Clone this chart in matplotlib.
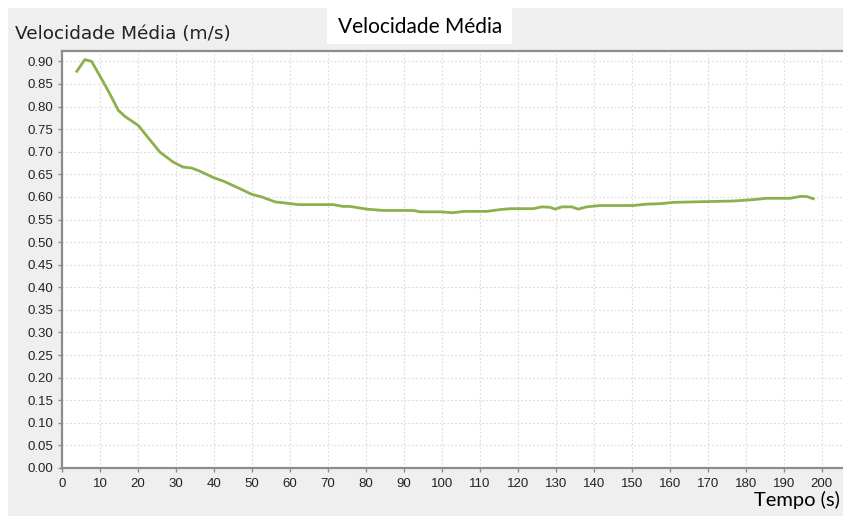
import numpy as np
import matplotlib.pyplot as plt
from matplotlib.patches import Rectangle

# tempo (s) e velocidade média (m/s)
tempo = [3.9, 6.0, 7.8, 10.9, 12.6, 14.8, 16.6, 20.1, 22.7, 25.8, 29.3, 31.9,
         34.1, 36.3, 39.8, 42.5, 46.9, 49.9, 52.6, 56.1, 58.3, 62.2, 71.4, 74.0,
         75.8, 80.2, 84.6, 92.5, 94.3, 99.5, 103.0, 105.7, 111.8, 115.3, 118.0,
         124.1, 126.3, 128.5, 129.8, 131.6, 134.2, 135.9, 138.1, 141.7, 150.4,
         153.9, 157.5, 161.0, 171.5, 176.8, 182.0, 185.5, 191.7, 194.3, 196.0,
         197.8]
velocidade = [0.878, 0.904, 0.900, 0.854, 0.828, 0.792, 0.778, 0.758, 0.731,
              0.699, 0.677, 0.666, 0.664, 0.657, 0.643, 0.635, 0.618, 0.606,
              0.600, 0.589, 0.587, 0.583, 0.583, 0.579, 0.579, 0.573, 0.570,
              0.570, 0.567, 0.567, 0.565, 0.568, 0.568, 0.572, 0.574, 0.574,
              0.578, 0.577, 0.573, 0.578, 0.578, 0.573, 0.578, 0.581, 0.581,
              0.584, 0.585, 0.588, 0.590, 0.591, 0.594, 0.597, 0.597, 0.601,
              0.601, 0.596]

xticks = np.arange(0, 201, 10)
yticks = np.arange(0, 0.901, 0.05)

W, H = 843, 516
fig = plt.figure(figsize=(W / 100, H / 100), dpi=100)
fig.patch.set_facecolor('white')

# painel cinza de fundo e caixa branca do título
bg = Rectangle((8 / W, 0), 1, 1 - 8 / H, transform=fig.transFigure,
               facecolor='#efefef', edgecolor='none', zorder=-2)
box = Rectangle((327 / W, 1 - 44 / H), 185 / W, 36 / H, transform=fig.transFigure,
                facecolor='white', edgecolor='none', zorder=-1)
fig.add_artist(bg)
fig.add_artist(box)

ax = fig.add_axes([62 / W, 1 - 468 / H, (W - 62) / W, (468 - 51) / H])
ax.set_zorder(2)
ax.set_facecolor('white')
ax.plot(tempo, velocidade, color='#8cb04e', lw=2.0, solid_joinstyle='round')

ax.set_xlim(0, 205.6)
ax.set_ylim(0, 0.923)
ax.set_xticks(xticks)
ax.set_yticks(yticks)
ax.set_xticklabels([str(v) for v in xticks])
ax.set_yticklabels([f'{v:.2f}' for v in yticks])
ax.grid(True, color='#dadada', lw=0.8, linestyle=(0, (1.5, 2)))
ax.set_axisbelow(True)

for side in ('left', 'bottom', 'top'):
    ax.spines[side].set_color('#8c8c8c')
    ax.spines[side].set_linewidth(1.6)
ax.spines['right'].set_visible(False)
ax.tick_params(axis='both', direction='out', length=3, width=1, color='#8c8c8c',
               labelsize=9.5, labelcolor='#222222')
ax.tick_params(axis='x', pad=4)
ax.tick_params(axis='y', pad=3)
for lbl in ax.get_xticklabels() + ax.get_yticklabels():
    lbl.set_family('Liberation Sans')

fig.text(15 / W, 1 - 34 / H, 'Velocidade Média (m/s)', fontsize=13.3,
         family='DejaVu Sans', color='#222222', va='center', ha='left', zorder=3)
fig.text(420 / W, 1 - 27 / H, 'Velocidade Média', fontsize=15,
         family='Lato', color='black', va='center', ha='center', zorder=3)
fig.text(840 / W, 1 - 500 / H, 'Tempo (s)', fontsize=14.5,
         family='Lato', color='black', va='center', ha='right', zorder=3)

fig.savefig('out.png', dpi=100)
